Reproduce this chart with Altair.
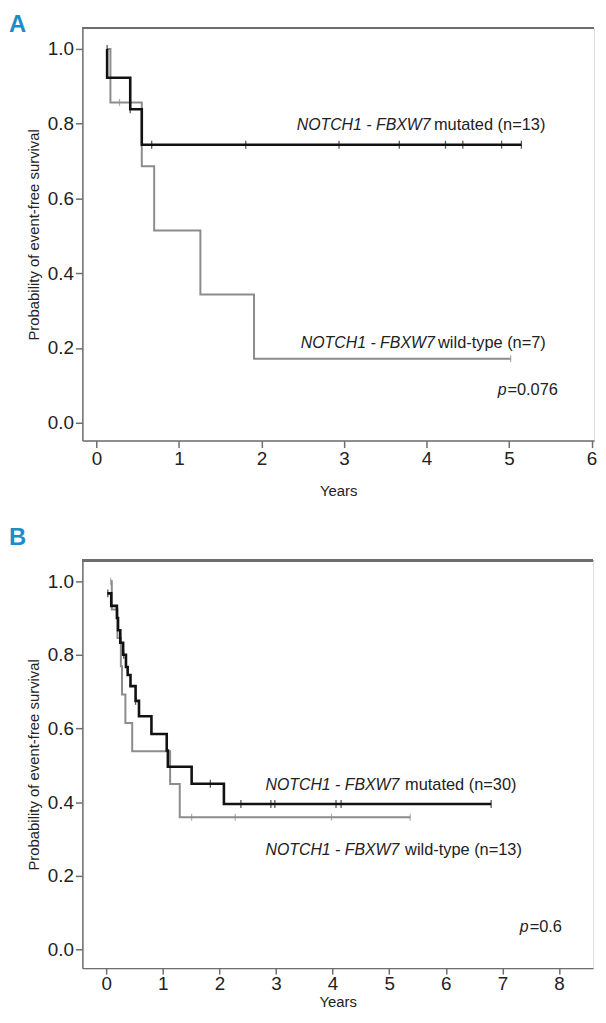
import altair as alt
import pandas as pd

FONT = "Liberation Sans, Arial, Helvetica, sans-serif"

# ---------------- Panel A data ----------------
a_mut_t = [0.13, 0.13, 0.41, 0.55, 5.15]
a_mut_s = [1.0, 0.923, 0.839, 0.744, 0.744]
a_mut_cens_t = [0.13, 0.41, 0.67, 1.81, 2.94, 3.67, 4.23, 4.44, 4.91, 5.15]
a_mut_cens_s = [1.0, 0.839, 0.744, 0.744, 0.744, 0.744, 0.744, 0.744, 0.744, 0.744]

a_wt_t = [0.13, 0.17, 0.55, 0.70, 1.26, 1.91, 5.02]
a_wt_s = [1.0, 0.857, 0.686, 0.514, 0.343, 0.171, 0.171]
a_wt_cens_t = [0.28, 5.02]
a_wt_cens_s = [0.857, 0.171]

# ---------------- Panel B data ----------------
b_mut_t = [0.02, 0.09, 0.19, 0.21, 0.25, 0.30, 0.35, 0.38, 0.43, 0.52, 0.58, 0.80,
           1.07, 1.09, 1.51, 2.08, 6.80]
b_mut_s = [0.967, 0.933, 0.900, 0.867, 0.833, 0.800, 0.767, 0.745, 0.715, 0.675, 0.633,
           0.585, 0.540, 0.496, 0.450, 0.395, 0.395]
b_mut_cens_t = [0.03, 0.31, 0.52, 1.84, 2.38, 2.91, 2.98, 4.06, 4.15, 6.80]
b_mut_cens_s = [0.967, 0.800, 0.675, 0.450, 0.395, 0.395, 0.395, 0.395, 0.395, 0.395]

b_wt_t = [0.08, 0.10, 0.20, 0.26, 0.28, 0.34, 0.46, 1.13, 1.30, 5.37]
b_wt_s = [1.0, 0.923, 0.846, 0.769, 0.692, 0.615, 0.538, 0.449, 0.359, 0.359]
b_wt_cens_t = [0.08, 1.51, 2.28, 3.98, 5.37]
b_wt_cens_s = [1.0, 0.359, 0.359, 0.359, 0.359]

# annotation texts
a_labels_x = [4.05, 4.09, 4.10, 4.14, 4.97, 4.98]
a_labels_y = [0.796, 0.796, 0.212, 0.212, 0.086, 0.086]
a_labels_text = ["NOTCH1 - FBXW7", "mutated (n=13)", "NOTCH1 - FBXW7", "wild-type (n=7)", "p", "=0.076"]
a_labels_italic = [True, False, True, False, True, False]

b_labels_x = [5.18, 5.28, 5.18, 5.28, 7.46, 7.48]
b_labels_y = [0.447, 0.447, 0.269, 0.269, 0.061, 0.061]
b_labels_text = ["NOTCH1 - FBXW7", "mutated (n=30)", "NOTCH1 - FBXW7", "wild-type (n=13)", "p", "=0.6"]
b_labels_italic = [True, False, True, False, True, False]

x_ticks_a = [0, 1, 2, 3, 4, 5, 6]
x_ticks_b = [0, 1, 2, 3, 4, 5, 6, 7, 8]
y_ticks = [0.0, 0.2, 0.4, 0.6, 0.8, 1.0]

BLACK = "#111111"
GRAY = "#8c8c8c"
AXIS = "#6e6e6e"
BLUE = "#1b8dc8"


def panel(letter, mut_t, mut_s, mc_t, mc_s, wt_t, wt_s, wc_t, wc_s,
          lx, ly, ltext, lital, xdom, ydom, xticks, w, h, title_pad, label_pad,
          tick_x, letter_offset):
    xs = alt.Scale(domain=xdom, nice=False, zero=False)
    ys = alt.Scale(domain=ydom, nice=False, zero=False)
    xax = alt.Axis(values=xticks, format="d", title="Years", grid=False,
                   domainColor=AXIS, domainWidth=1.5, tickColor=AXIS, tickWidth=1.5,
                   tickSize=tick_x, labelFontSize=19, labelFont=FONT, labelColor="#222",
                   labelPadding=label_pad, titleFont=FONT, titleFontSize=15,
                   titleFontWeight="normal", titleColor="#222", titlePadding=title_pad)
    yax = alt.Axis(values=y_ticks, format=".1f", title="Probability of event-free survival",
                   grid=False, domainColor=AXIS, domainWidth=1.5, tickColor=AXIS,
                   tickWidth=1.5, tickSize=7, labelFontSize=19, labelFont=FONT,
                   labelColor="#222", labelPadding=2, titleFont=FONT, titleFontSize=15,
                   titleFontWeight="normal", titleColor="#222", titlePadding=6)

    mut = pd.DataFrame({"t": mut_t, "s": mut_s})
    wt = pd.DataFrame({"t": wt_t, "s": wt_s})
    mc = pd.DataFrame({"t": mc_t, "s": mc_s})
    wc = pd.DataFrame({"t": wc_t, "s": wc_s})
    lab = pd.DataFrame({"x": lx, "y": ly, "text": ltext, "ital": lital})

    base_axes = alt.Chart(wt).mark_line(interpolate="step-after", color=GRAY,
                                        strokeWidth=2).encode(
        x=alt.X("t:Q", scale=xs, axis=xax),
        y=alt.Y("s:Q", scale=ys, axis=yax),
    )
    wt_c = alt.Chart(wc).mark_tick(color=GRAY, size=7, thickness=1.2,
                                   orient="vertical").encode(
        x=alt.X("t:Q", scale=xs), y=alt.Y("s:Q", scale=ys))
    mut_l = alt.Chart(mut).mark_line(interpolate="step-after", color=BLACK,
                                     strokeWidth=2.6).encode(
        x=alt.X("t:Q", scale=xs), y=alt.Y("s:Q", scale=ys))
    mut_c = alt.Chart(mc).mark_tick(color=BLACK, size=8, thickness=1.3,
                                    orient="vertical").encode(
        x=alt.X("t:Q", scale=xs), y=alt.Y("s:Q", scale=ys))

    top_rule = alt.Chart(mut).mark_rule(color=AXIS, strokeWidth=1.5).encode(
        x=alt.value(0), x2=alt.value(w), y=alt.value(0))

    ital = alt.Chart(lab).transform_filter("datum.ital").mark_text(
        align="right", baseline="middle", font=FONT, fontSize=16,
        fontStyle="italic", color="#222").encode(
        x=alt.X("x:Q", scale=xs), y=alt.Y("y:Q", scale=ys), text="text:N")
    norm = alt.Chart(lab).transform_filter("!datum.ital").mark_text(
        align="left", baseline="middle", font=FONT, fontSize=16.5,
        color="#222").encode(
        x=alt.X("x:Q", scale=xs), y=alt.Y("y:Q", scale=ys), text="text:N")

    return alt.layer(top_rule, base_axes, wt_c, mut_l, mut_c, ital, norm).properties(
        width=w, height=h,
        title=alt.TitleParams(letter, anchor="start", frame="group", dx=-74,
                              fontSize=24, fontWeight="bold", color=BLUE,
                              font=FONT, offset=letter_offset),
    )


pa = panel("A", a_mut_t, a_mut_s, a_mut_cens_t, a_mut_cens_s,
           a_wt_t, a_wt_s, a_wt_cens_t, a_wt_cens_s,
           a_labels_x, a_labels_y, a_labels_text, a_labels_italic,
           [-0.17, 6.03], [-0.048, 1.056], x_ticks_a, 516, 416, 15, 2, 7, -10)
pb = panel("B", b_mut_t, b_mut_s, b_mut_cens_t, b_mut_cens_s,
           b_wt_t, b_wt_s, b_wt_cens_t, b_wt_cens_s,
           b_labels_x, b_labels_y, b_labels_text, b_labels_italic,
           [-0.42, 8.6], [-0.051, 1.056], x_ticks_b, 515, 411, 1, 1, 6, 10)

chart = alt.vconcat(pa, pb, spacing=26).properties(
    padding={"left": 0, "top": 0, "right": 0, "bottom": 0}
).configure_view(stroke=None).configure(background="white")

chart.save("out.html", embed_options={"renderer": "svg", "actions": False})
